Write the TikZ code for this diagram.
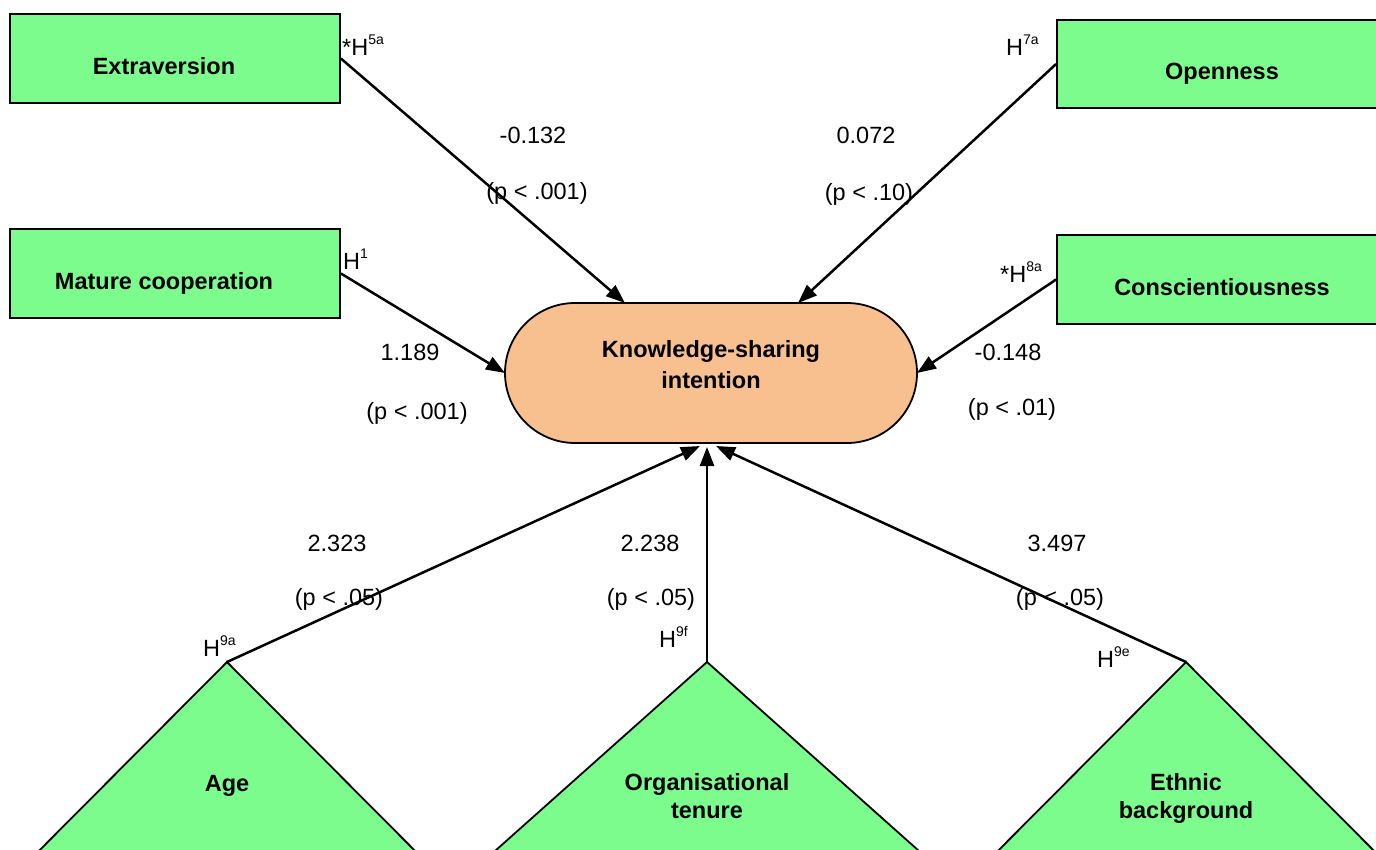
\documentclass[tikz,border=0pt]{standalone}
\usepackage{fontspec}
\setmainfont{Liberation Sans}
\usetikzlibrary{shapes.misc,arrows.meta}
\definecolor{boxgreen}{RGB}{125,252,142}
\definecolor{peachfill}{RGB}{249,192,143}
\newcommand{\hypsup}[1]{H\raisebox{11pt}{\fontsize{14}{14}\selectfont #1}}
\begin{document}
\begin{tikzpicture}[x=1pt,y=-1pt,
  varbox/.style={draw, fill=boxgreen, line width=1.8pt,
    font=\fontsize{23.5}{28}\selectfont\bfseries, inner sep=0pt,
    minimum width=330pt, text height=32pt, text depth=0pt},
  outcome/.style={rounded rectangle, draw, fill=peachfill, line width=1.8pt,
    minimum width=412pt, minimum height=140pt, inner sep=0pt, align=center,
    font=\fontsize{23.5}{31}\selectfont\bfseries, text depth=17pt},
  tri/.style={draw, fill=boxgreen, line width=1.8pt, line join=miter},
  tritext/.style={font=\fontsize{23.5}{28}\selectfont\bfseries, align=center, inner sep=0pt},
  lbl/.style={font=\fontsize{23.5}{28}\selectfont, inner sep=0pt},
  hyplbl/.style={font=\fontsize{23.5}{28}\selectfont, inner sep=0pt, anchor=base west},
  link/.style={line width=2.5pt, -{Triangle[length=19pt,width=14pt]}}
]
\useasboundingbox (0,0) rectangle (1376,850);
\clip (0,0) rectangle (1376,850);

% triangles (control variables)
\coordinate (agetop) at (227,662);
\coordinate (tentop) at (707,662);
\coordinate (ethtop) at (1186,662);
\draw[tri] (agetop) -- (227+237,900) -- (227-237,900) -- cycle;
\draw[tri] (tentop) -- (707+267,900) -- (707-267,900) -- cycle;
\draw[tri] (ethtop) -- (1186+237,900) -- (1186-237,900) -- cycle;
\node[tritext] (age) at (227,786) {Age};
\node[tritext] (tenure) at (707,796) {Organisational\\tenure};
\node[tritext] (ethnic) at (1186,798) {Ethnic\\background};

% boxes
\node[varbox, minimum height=89pt] (ext) at (175,58.5) {Extraversion\kern22pt};
\node[varbox, minimum height=89pt] (mat) at (175,273.5) {Mature cooperation\kern22pt};
\node[varbox, minimum height=88pt] (open) at (1222,64) {Openness};
\node[varbox, minimum height=89pt] (con) at (1222,279.5) {Conscientiousness};

% outcome
\node[outcome] (ksi) at (711,373) {Knowledge-sharing\\intention};

% arrow end points on the outcome
\coordinate (ktA) at (625,303);
\coordinate (ktB) at (798,303);
\coordinate (ktC) at (505,373);
\coordinate (ktD) at (917,373);
\coordinate (ktE) at (700,446);
\coordinate (ktF) at (707,447);
\coordinate (ktG) at (716,446);

% connectors
\draw[link] (ext.east) -- (ktA);
\draw[link] (open.west) -- (ktB);
\draw[link] (mat.east) -- (ktC);
\draw[link] (con.west) -- (ktD);
\draw[link] (agetop) -- (ktE);
\draw[link] (tentop) -- (ktF);
\draw[link] (ethtop) -- (ktG);

% coefficients
\node[lbl] (cA) at (533,135.5) {-0.132};
\node[lbl] (pA) at (537,193) {(p < .001)};
\node[lbl] (cB) at (866,135.5) {0.072};
\node[lbl] (pB) at (869,194) {(p < .10)};
\node[lbl] (cC) at (410,352) {1.189};
\node[lbl] (pC) at (417,413) {(p < .001)};
\node[lbl] (cD) at (1008,352) {-0.148};
\node[lbl] (pD) at (1012,409) {(p < .01)};
\node[lbl] (cE) at (337,543) {2.323};
\node[lbl] (pE) at (339,599) {(p < .05)};
\node[lbl] (cF) at (650,543) {2.238};
\node[lbl] (pF) at (651,599) {(p < .05)};
\node[lbl] (cG) at (1057,543) {3.497};
\node[lbl] (pG) at (1060,599) {(p < .05)};

% hypothesis labels
\node[hyplbl] (hA) at (342,56) {*\hypsup{5a}};
\node[hyplbl] (hB) at (1006,56) {\hypsup{7a}};
\node[hyplbl] (hC) at (343,270) {\hypsup{1}};
\node[hyplbl] (hD) at (1000,283) {*\hypsup{8a}};
\node[hyplbl] (hE) at (203,656) {\hypsup{9a}};
\node[hyplbl] (hF) at (659,647) {\hypsup{9f}};
\node[hyplbl] (hG) at (1097,667) {\hypsup{9e}};
\end{tikzpicture}
\end{document}
